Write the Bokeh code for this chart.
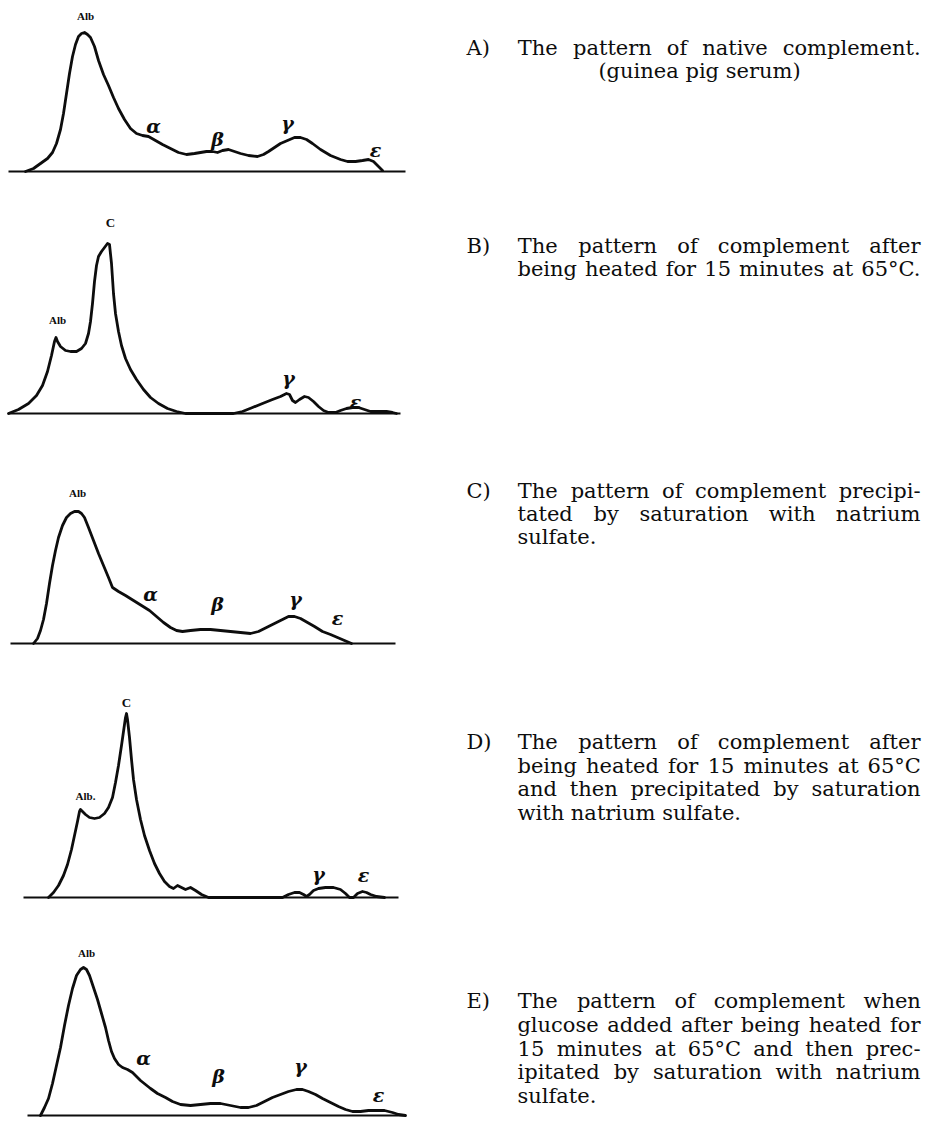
from bokeh.plotting import figure
from bokeh.models import Range1d
from bokeh.core.properties import value
from bokeh.embed import file_html
from bokeh.resources import INLINE

# ---------------- data: densitometric curves (x along strip, height above baseline) -------------
a_x = [25, 33, 40, 47, 52, 56, 60, 63, 66, 69, 72, 75, 78, 81, 84, 87, 90, 94, 98, 103, 108, 113, 118,
       124, 130, 136, 142, 148, 155, 162, 170, 178, 186, 194, 200, 206, 212, 217, 222, 228, 234, 240,
       248, 257, 263, 268, 274, 280, 287, 294, 300, 306, 312, 320, 330, 340, 347, 355, 362, 368, 373,
       377, 382]
a_h = [0, 3, 8, 13, 19, 28, 42, 58, 78, 98, 115, 127, 135, 138, 139, 137, 134, 125, 111, 97, 86, 74, 63,
       52, 43, 38, 36, 35, 31, 27, 23, 19, 17, 18, 19, 20, 20, 19, 21, 22, 20, 18,
       16, 15, 17, 20, 24, 28, 31, 34, 34, 32, 28, 22, 16, 12, 10, 10, 11, 12, 10,
       6, 1]

b_x = [8, 18, 28, 36, 42, 47, 51, 54, 55.5, 57, 60, 65, 70, 76, 81, 85, 88, 90, 92, 94, 96, 98, 101,
       104, 107, 109, 111, 113, 115, 118, 121, 125, 130, 136, 143, 150, 158, 167, 176, 185, 233, 242,
       252, 262, 272, 280, 286, 289, 292, 295, 299, 304, 308, 313, 318, 323, 328, 335, 340, 346, 352,
       358, 364, 370, 378, 386, 392, 396]
b_h = [0, 4, 10, 18, 28, 42, 58, 72, 76, 72, 67, 63, 62, 62, 65, 70, 80, 92, 110, 132, 148, 157, 162,
       166, 170, 169, 150, 120, 100, 82, 68, 55, 44, 34, 24, 16, 10, 5, 2, 0, 0, 2,
       6, 10, 14, 17, 20, 19, 13, 11, 14, 17, 16, 12, 7, 3, 1, 1, 3, 5, 6,
       6, 4, 2, 2, 2, 1, 0]

c_x = [33, 37, 40, 43, 46, 49, 52, 55, 58, 62, 66, 70, 74, 78, 81, 84, 88, 93, 98, 103, 108, 112, 118,
       125, 133, 141, 149, 156, 163, 170, 176, 182, 190, 200, 210, 220, 230, 240, 250, 258, 266, 274,
       282, 288, 294, 300, 307, 314, 322, 330, 337, 344, 351]
c_h = [0, 5, 13, 24, 40, 60, 78, 93, 106, 118, 126, 130, 132, 132, 130, 126, 116, 103, 90, 78, 66, 56, 52,
       48, 43, 38, 33, 27, 21, 16, 13, 12, 13, 14, 14, 13, 12, 11, 10, 12, 16, 20,
       24, 27, 27, 25, 21, 17, 12, 9, 6, 3, 0]

d_x = [48, 53, 58, 63, 67, 71, 74, 77, 79, 80, 82, 85, 89, 94, 99, 104, 108, 112, 115, 118, 121, 123,
       125, 126, 127, 129, 131, 133, 136, 140, 144, 149, 154, 159, 164, 169, 173, 177, 181, 185, 190,
       195, 201, 208, 282, 288, 294, 299, 303, 306, 309, 313, 318, 325, 333, 340, 345, 349, 353, 357,
       362, 366, 370, 376, 384]
d_h = [0, 5, 12, 22, 33, 48, 62, 76, 86, 88, 86, 83, 80, 79, 80, 84, 90, 100, 115, 132, 152, 166,
       180, 184, 178, 160, 138, 118, 98, 78, 62, 47, 34, 24, 16, 11, 9, 12, 10, 8, 10,
       7, 3, 0, 0, 3, 5, 5, 3, 1, 3, 7, 9, 10, 10, 8, 4, 0, 0, 4,
       6, 5, 3, 1, 0]

e_x = [40, 44, 48, 52, 56, 60, 64, 68, 72, 76, 80, 83, 86, 89, 93, 97, 101, 105, 108, 111, 114, 118,
       122, 127, 132, 136, 140, 145, 150, 157, 165, 172, 180, 190, 200, 210, 220, 230, 240, 248, 256,
       264, 272, 280, 288, 296, 302, 308, 315, 322, 330, 338, 345, 352, 360, 368, 376, 384, 392, 398,
       405]
e_h = [0, 8, 17, 32, 50, 68, 90, 110, 127, 140, 146, 148, 146, 140, 128, 116, 102, 88, 75, 64, 57, 51,
       48, 46, 43, 39, 35, 31, 27, 22, 18, 14, 11, 10, 11, 12, 12, 10, 8, 8, 10,
       14, 18, 21, 24, 26, 26, 24, 21, 17, 13, 9, 6, 4, 4, 5, 5, 5, 3, 1,
       0]

# peak labels: text, x, height above baseline
a_lab = ["Alb", "α", "β", "γ", "ε"]
a_lab_x = [85, 153, 217, 287, 375]
a_lab_h = [156, 46, 33, 49, 22]

b_lab = ["Alb", "C", "γ", "ε"]
b_lab_x = [57, 110, 288, 355]
b_lab_h = [94, 191, 36, 12]

c_lab = ["Alb", "α", "β", "γ", "ε"]
c_lab_x = [77, 150, 217, 295, 337]
c_lab_h = [151, 50, 40, 45, 26]

d_lab = ["Alb.", "C", "γ", "ε"]
d_lab_x = [85, 126, 318, 363]
d_lab_h = [102, 195, 24, 23]

e_lab = ["Alb", "α", "β", "γ", "ε"]
e_lab_x = [86, 143, 218, 300, 378]
e_lab_h = [163, 58, 40, 50, 21]

# captions
tags = ["A)", "B)", "C)", "D)", "E)"]
cap_A = ["The pattern of native complement.", "(guinea pig serum)"]
cap_B = ["The pattern of complement after", "being heated for 15 minutes at 65°C."]
cap_C = ["The pattern of complement precipi-", "tated by saturation with natrium", "sulfate."]
cap_D = ["The pattern of complement after", "being heated for 15 minutes at 65°C",
         "and then precipitated by saturation", "with natrium sulfate."]
cap_E = ["The pattern of complement when", "glucose added after being heated for",
         "15 minutes at 65°C and then prec-", "ipitated by saturation with natrium", "sulfate."]

# ---------------- layout (screen pixel coordinates) ----------------
W_PAGE, H_PAGE = 922, 1117
INK = "#0d0d0d"

panels = [
    dict(x=a_x, h=a_h, base=171, bl=(8, 405), lab=a_lab, lx=a_lab_x, lh=a_lab_h,
         cap=cap_A, cy=[47, 70], modes=["j", "c"]),
    dict(x=b_x, h=b_h, base=413, bl=(8, 400), lab=b_lab, lx=b_lab_x, lh=b_lab_h,
         cap=cap_B, cy=[245, 268], modes=["j", "j"]),
    dict(x=c_x, h=c_h, base=643, bl=(10, 395), lab=c_lab, lx=c_lab_x, lh=c_lab_h,
         cap=cap_C, cy=[490, 513, 536], modes=["j", "j", "l"]),
    dict(x=d_x, h=d_h, base=897, bl=(23, 398), lab=d_lab, lx=d_lab_x, lh=d_lab_h,
         cap=cap_D, cy=[741, 765, 788, 812], modes=["j", "j", "j", "l"]),
    dict(x=e_x, h=e_h, base=1115, bl=(27, 405), lab=e_lab, lx=e_lab_x, lh=e_lab_h,
         cap=cap_E, cy=[1000, 1024, 1048, 1071, 1095], modes=["j", "j", "j", "j", "l"]),
]

FS = 21
TX0, TX1, TAGX = 517, 920, 466

EM = {
    'a': .60, 'b': .64, 'c': .56, 'd': .64, 'e': .59, 'f': .37, 'g': .64, 'h': .64, 'i': .32,
    'j': .32, 'k': .60, 'l': .32, 'm': .95, 'n': .64, 'o': .60, 'p': .64, 'q': .64, 'r': .48,
    's': .51, 't': .40, 'u': .64, 'v': .57, 'w': .83, 'x': .57, 'y': .57, 'z': .53,
    'T': .70, 'C': .72, '.': .32, '-': .34, '(': .39, ')': .39, '°': .50, ' ': .32,
}


def est_w(s):
    return sum(EM.get(ch, .64) for ch in s) * FS


def justify(line, x0, x1):
    words = line.split()
    ws = [est_w(w) for w in words]
    gap = (x1 - x0 - sum(ws)) / max(len(words) - 1, 1)
    xs, x = [], x0
    for w in ws:
        xs.append(x + w / 2)
        x += w + gap
    return words, xs


p = figure(width=W_PAGE, height=H_PAGE, output_backend="svg", toolbar_location=None,
           x_range=Range1d(0, W_PAGE), y_range=Range1d(H_PAGE, 0),
           min_border=0, outline_line_color=None, background_fill_color="white",
           border_fill_color="white")
p.axis.visible = False
p.grid.visible = False

for i, pn in enumerate(panels):
    base = pn["base"]
    # baseline
    p.line(list(pn["bl"]), [base, base], line_width=2.2, line_color=INK)
    # curve
    ys = [base - h for h in pn["h"]]
    p.line(pn["x"], ys, line_width=2.8, line_color=INK, line_join="round", line_cap="round")
    # labels
    greek_x, greek_y, greek_t = [], [], []
    alb_x, alb_y, alb_t = [], [], []
    for t, lx, lh in zip(pn["lab"], pn["lx"], pn["lh"]):
        if t.startswith("Alb") or t == "C":
            alb_x.append(lx); alb_y.append(base - lh); alb_t.append(t)
        else:
            greek_x.append(lx); greek_y.append(base - lh); greek_t.append(t)
    p.text(x=greek_x, y=greek_y, text=greek_t, text_font=value("DejaVu Serif"),
           text_font_style="bold italic", text_font_size="19px", text_align="center",
           text_baseline="middle", text_color=INK)
    sizes = ["13px" if t == "C" else "11px" for t in alb_t]
    p.text(x=alb_x, y=alb_y, text=alb_t, text_font=value("Liberation Serif"),
           text_font_style="bold", text_font_size=sizes, text_align="center",
           text_baseline="middle", text_color=INK)

    # caption
    p.text(x=[TAGX], y=[pn["cy"][0]], text=[tags[i]], text_font=value("DejaVu Serif"),
           text_font_size=f"{FS}px", text_align="left", text_baseline="middle", text_color=INK)
    wx, wy, wt = [], [], []
    lx_, ly_, lt_ = [], [], []
    cx_, cy_, ct_ = [], [], []
    for line, y, mode in zip(pn["cap"], pn["cy"], pn["modes"]):
        if mode == "j":
            words, xs = justify(line, TX0, TX1)
            wx += xs; wy += [y] * len(words); wt += words
        elif mode == "c":
            cx_.append(699); cy_.append(y); ct_.append(line)
        else:
            lx_.append(TX0); ly_.append(y); lt_.append(line)
    common = dict(text_font=value("DejaVu Serif"), text_font_size=f"{FS}px",
                  text_baseline="middle", text_color=INK)
    if wt:
        p.text(x=wx, y=wy, text=wt, text_align="center", **common)
    if lt_:
        p.text(x=lx_, y=ly_, text=lt_, text_align="left", **common)
    if ct_:
        p.text(x=cx_, y=cy_, text=ct_, text_align="center", **common)

open("out.html", "w").write(file_html(p, INLINE))
